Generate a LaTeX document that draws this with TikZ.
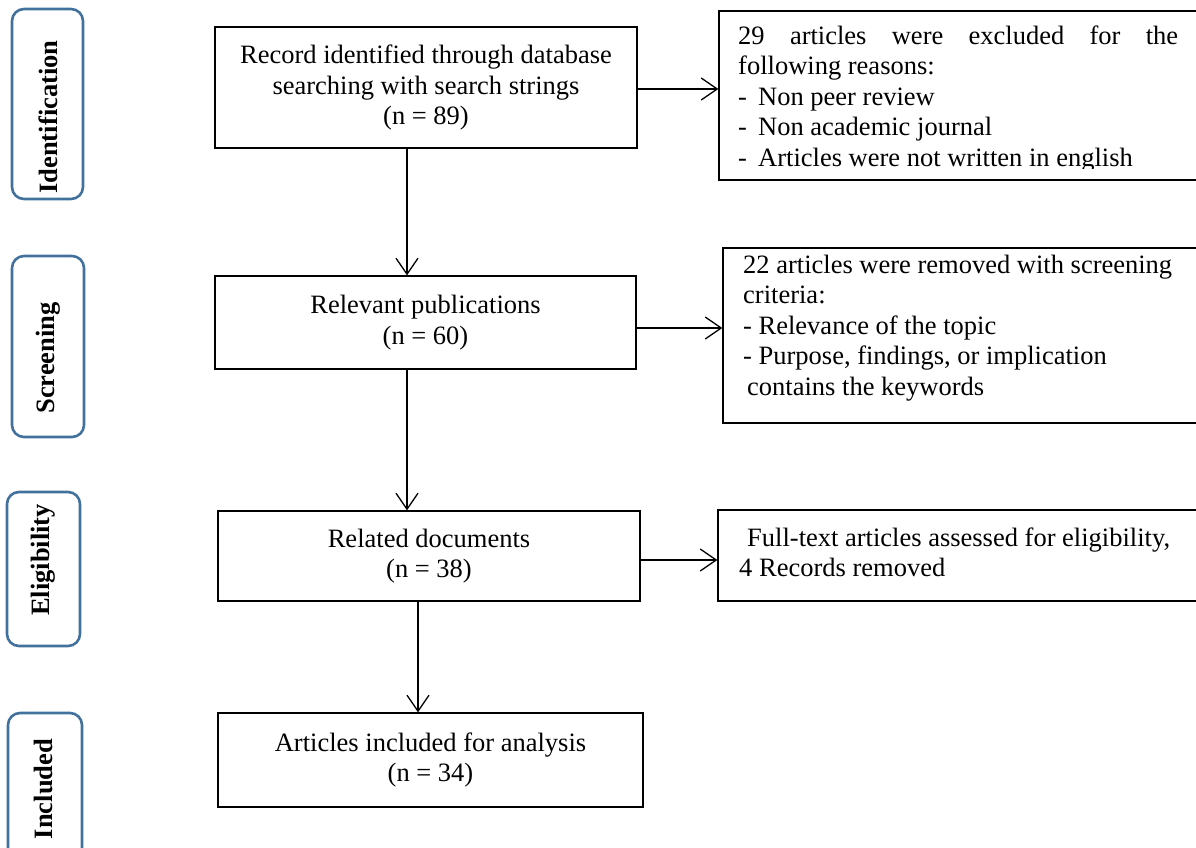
\documentclass[tikz,border=0pt]{standalone}
\usepackage{fontspec}
\setmainfont{Liberation Serif}
\usetikzlibrary{arrows.meta}
\definecolor{sideblue}{RGB}{65,113,156}
\begin{document}
\begin{tikzpicture}[x=1pt,y=-1pt,
  side/.style={draw=sideblue, line width=2.6pt, rounded corners=12pt, inner sep=0pt},
  sidetext/.style={font=\fontsize{26.5}{30}\selectfont\bfseries, rotate=90, inner sep=0pt},
  mainbox/.style={draw=black, line width=1.3pt, align=center, inner sep=0pt,
    font=\fontsize{26.5}{30.5}\selectfont},
  notebox/.style={draw=black, line width=1.3pt, inner sep=0pt},
  notetext/.style={anchor=north west, align=left, inner sep=0pt,
    font=\fontsize{26.5}{30.5}\selectfont},
  arr/.style={line width=1.3pt, -{Straight Barb[length=16pt,width=22pt]}}]

\useasboundingbox (0,0) rectangle (1196,848);

% side stage labels
\node[side, minimum width=71pt, minimum height=190pt] (sIdent) at (47.5,104) {};
\node[sidetext] (tIdent) at (48.5,117) {Identification};
\node[side, minimum width=72pt, minimum height=181pt] (sScreen) at (48,346.5) {};
\node[sidetext] (tScreen) at (48,358) {Screening};
\node[side, minimum width=73pt, minimum height=154pt] (sElig) at (43.5,569) {};
\node[sidetext] (tElig) at (43,560) {Eligibility};
\node[side, minimum width=74pt, minimum height=157pt] (sIncl) at (45,791.5) {};
\node[sidetext] (tIncl) at (43,789) {Included};

% main flow boxes
\node[mainbox, minimum width=422pt, minimum height=121pt] (b1) at (426,87.5)
  {Record identified through database\\searching with search strings\\(n = 89)};
\node[mainbox, minimum width=421pt, minimum height=93pt] (b2) at (425.5,322.5)
  {Relevant publications\\(n = 60)};
\node[mainbox, minimum width=422pt, minimum height=90pt] (b3) at (429,556)
  {Related documents\\(n = 38)};
\node[mainbox, minimum width=425pt, minimum height=94pt] (b4) at (430.5,760)
  {Articles included for analysis\\(n = 34)};

% right note boxes
\node[notebox, minimum width=491pt, minimum height=169pt] (r1) at (964.5,95.5) {};
\begin{scope}
  \clip (719,11) rectangle (1210,168);
  \node[notetext] (r1t) at (738,22.65)
    {\strut\hbox to 440pt{29\hfill articles\hfill were\hfill excluded\hfill for\hfill the}\\
     following reasons:\\
     \makebox[20pt][l]{-}Non peer review\\
     \makebox[20pt][l]{-}Non academic journal\\
     \makebox[20pt][l]{-}Articles were not written in english};
\end{scope}

\node[notebox, minimum width=487pt, minimum height=175pt] (r2) at (966.5,335.5) {};
\node[notetext] (r2t) at (743,251.65)
  {\strut 22 articles were removed with screening\\
   criteria:\\
   - Relevance of the topic\\
   - Purpose, findings, or implication\\
   \hspace*{4pt}contains the keywords};

\node[notebox, minimum width=492pt, minimum height=91pt] (r3) at (964,555.5) {};
\node[notetext] (r3t) at (739,524.65)
  {\strut\hspace*{8pt}Full-text articles assessed for eligibility,\\
   4 Records removed};

% connectors
\coordinate (c1) at (407,0);
\coordinate (c3) at (418,0);
\coordinate (h1) at (0,89);
\coordinate (h2) at (0,328);
\coordinate (h3) at (0,560);
\draw[arr] (b1.south -| c1) -- (b2.north -| c1);
\draw[arr] (b2.south -| c1) -- (b3.north -| c1);
\draw[arr] (b3.south -| c3) -- (b4.north -| c3);
\draw[arr] (b1.east |- h1) -- (r1.west |- h1);
\draw[arr] (b2.east |- h2) -- (r2.west |- h2);
\draw[arr] (b3.east |- h3) -- (r3.west |- h3);
\end{tikzpicture}
\end{document}
